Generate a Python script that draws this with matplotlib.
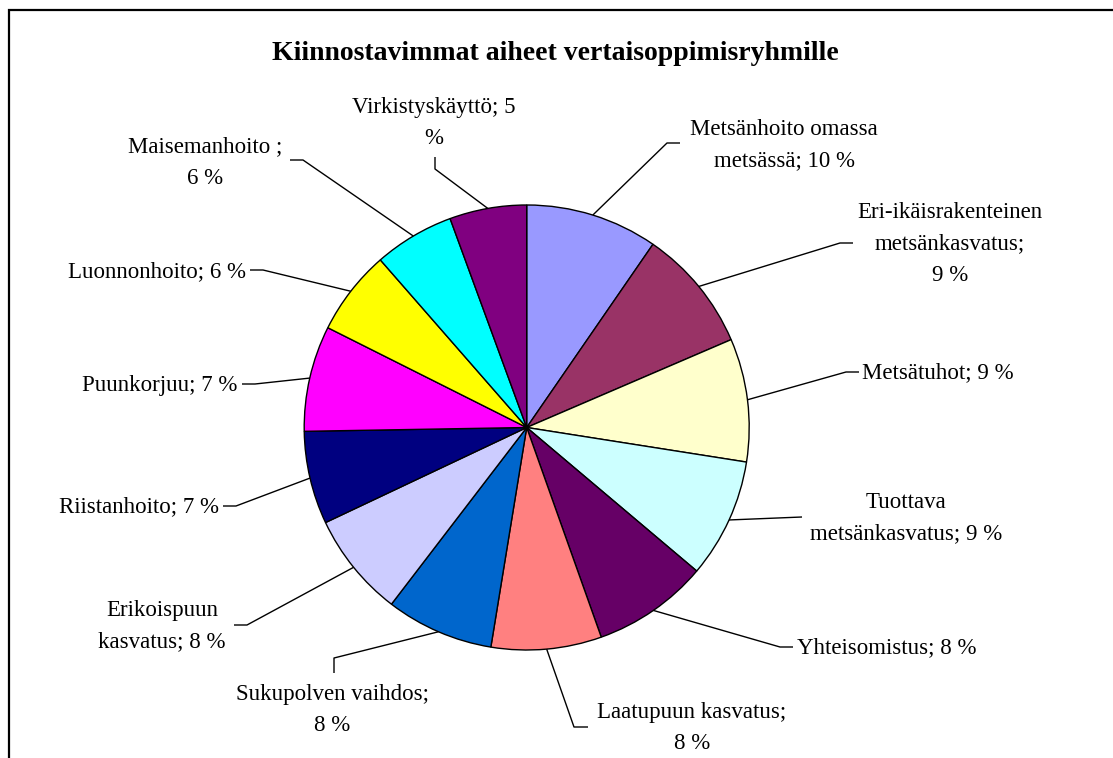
import numpy as np
import matplotlib
matplotlib.use("Agg")
import matplotlib.pyplot as plt
from matplotlib.patches import Rectangle

plt.rcParams['font.family'] = ['Liberation Serif', 'DejaVu Serif']

title = "Kiinnostavimmat aiheet vertaisoppimisryhmille"

# shares (clockwise from 12 o'clock)
shares = [9.60, 8.93, 8.94, 8.67, 8.40, 8.01, 7.82, 7.57, 6.75, 7.67, 6.17, 5.83, 5.59]

labels = [
    "Metsänhoito omassa\nmetsässä; 10 %",
    "Eri-ikäisrakenteinen\nmetsänkasvatus;\n9 %",
    "Metsätuhot; 9 %",
    "Tuottava\nmetsänkasvatus; 9 %",
    "Yhteisomistus; 8 %",
    "Laatupuun kasvatus;\n8 %",
    "Sukupolven vaihdos;\n8 %",
    "Erikoispuun\nkasvatus; 8 %",
    "Riistanhoito; 7 %",
    "Puunkorjuu; 7 %",
    "Luonnonhoito; 6 %",
    "Maisemanhoito ;\n6 %",
    "Virkistyskäyttö; 5\n%",
]

colors = ["#9999FF", "#993366", "#FFFFCC", "#CCFFFF", "#660066", "#FF8080",
          "#0066CC", "#CCCCFF", "#000080", "#FF00FF", "#FFFF00", "#00FFFF",
          "#800080"]

W, H = 1113, 758
cx, cy, R = 526.7, 427.5, 222.5

# label layout in pixels: text x, text y, alignment, leader tip, leader knee
layout = [
    (784, 145, "center", (680, 143), (667, 143)),
    (950, 244, "center", (853, 243), (840, 243)),
    (862, 373, "left", (859, 372), (846, 372)),
    (906, 518, "center", (802, 517), (802, 517)),
    (797, 648, "left", (793, 647), (780, 647)),
    (692, 728, "center", (588, 727), (574, 727)),
    (332, 710, "center", (334, 673), (334, 658)),
    (162, 626, "center", (234, 625), (247, 625)),
    (219, 507, "right", (223, 506), (236, 506)),
    (237, 386, "right", (242, 384), (255, 384)),
    (246, 272, "right", (250, 270), (263, 270)),
    (205, 163, "center", (290, 160), (303, 160)),
    (434, 123, "center", (435, 157), (435, 169)),
]

def P(px, py):
    return px, H - py

fig = plt.figure(figsize=(W / 100, H / 100), dpi=100)
ax = fig.add_axes([0, 0, 1, 1])

wedges, _ = ax.pie(shares, colors=colors, startangle=90, counterclock=False,
                   center=P(cx, cy), radius=R,
                   wedgeprops=dict(edgecolor="black", linewidth=1.0))
ax.set_xlim(0, W)
ax.set_ylim(0, H)
ax.set_aspect("auto")
ax.axis("off")

for w, lab, (tx, ty, ha, tip, knee) in zip(wedges, labels, layout):
    mid = np.deg2rad((w.theta1 + w.theta2) / 2)
    x0 = w.center[0] + R * np.cos(mid)
    y0 = w.center[1] + R * np.sin(mid)
    xs = [x0, P(*knee)[0], P(*tip)[0]]
    ys = [y0, P(*knee)[1], P(*tip)[1]]
    ax.plot(xs, ys, color="black", lw=1.0, solid_capstyle="butt")
    ax.text(*P(tx, ty), lab, ha=ha, va="center", multialignment="center",
            fontsize=16.5, linespacing=1.68, color="black")

ax.text(*P(555, 53), title, ha="center", va="center", fontsize=20,
        fontweight="bold")

# chart frame (cut off at right and bottom like the reference)
ax.add_patch(Rectangle(P(9, 770), 1200, 760, fill=False, edgecolor="black",
                       lw=1.6, clip_on=False))

fig.savefig("out.png", dpi=100)
